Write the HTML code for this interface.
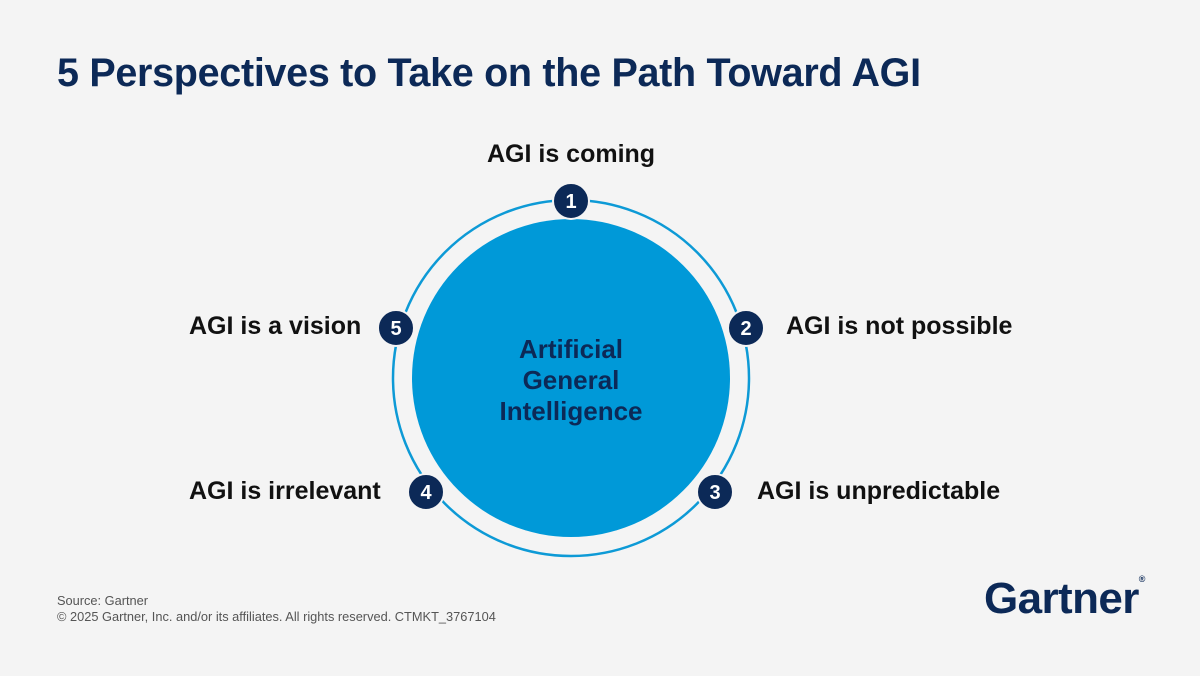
<!DOCTYPE html>
<html><head><meta charset="utf-8"><style>
body{margin:0;background:#f4f4f4;}
.c{position:relative;width:1200px;height:676px;background:#f4f4f4;font-family:"Liberation Sans",sans-serif;overflow:hidden}
.t{position:absolute;left:57px;top:51px;font-size:39.5px;font-weight:bold;color:#0c2957;letter-spacing:-0.3px}
.l{position:absolute;font-size:25px;font-weight:bold;color:#111;white-space:nowrap}
.f{position:absolute;left:57px;font-size:12.8px;color:#555}
.g{position:absolute;left:984px;top:574px;font-size:44px;font-weight:bold;color:#0c2957;letter-spacing:-0.6px}
</style></head><body><div class="c">
<div class="t">5 Perspectives to Take on the Path Toward AGI</div>
<svg width="1200" height="676" style="position:absolute;left:0;top:0">
<circle cx="571" cy="378" r="178" fill="none" stroke="#0d9ad6" stroke-width="2.5"/>
<circle cx="571" cy="378" r="159" fill="#0099d8"/>
<g fill="#0c2957" stroke="#f4f4f4" stroke-width="2">
<circle cx="571" cy="201" r="18"/><circle cx="746" cy="328" r="18"/><circle cx="715" cy="492" r="18"/><circle cx="426" cy="492" r="18"/><circle cx="396" cy="328" r="18"/>
</g>
<g fill="#fff" font-family="Liberation Sans" font-size="20" font-weight="bold" text-anchor="middle">
<text x="571" y="208">1</text><text x="746" y="335">2</text><text x="715" y="499">3</text><text x="426" y="499">4</text><text x="396" y="335">5</text>
</g>
<g fill="#0c2957" font-family="Liberation Sans" font-size="26" font-weight="bold" text-anchor="middle">
<text x="571" y="358">Artificial</text><text x="571" y="389">General</text><text x="571" y="420">Intelligence</text>
</g>
</svg>
<div class="l" style="left:487px;top:140px">AGI is coming</div>
<div class="l" style="left:786px;top:312px">AGI is not possible</div>
<div class="l" style="left:757px;top:477px">AGI is unpredictable</div>
<div class="l" style="left:189px;top:477px">AGI is irrelevant</div>
<div class="l" style="left:189px;top:312px">AGI is a vision</div>
<div class="f" style="top:593px">Source: Gartner</div>
<div class="f" style="top:609px">© 2025 Gartner, Inc. and/or its affiliates. All rights reserved. CTMKT_3767104</div>
<div class="g">Gartner<span style="font-size:9px;vertical-align:top;letter-spacing:0">®</span></div>
</div></body></html>
